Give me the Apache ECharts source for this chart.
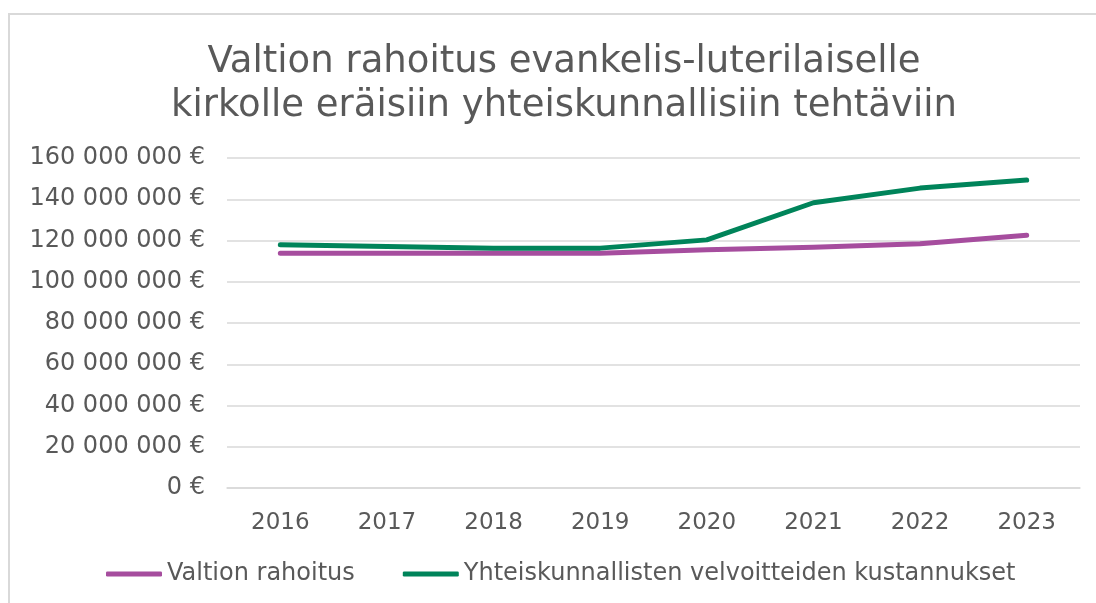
<!DOCTYPE html>
<html>
<head>
<meta charset="utf-8">
<script src="https://cdn.jsdelivr.net/npm/echarts@6/dist/echarts.min.js"></script>
<style>
  html, body { margin: 0; padding: 0; background: #fff; }
  #chart { width: 1096px; height: 603px; }
</style>
</head>
<body>
<div id="chart"></div>
<script>
// vuodet ja sarjat (luettu kuvasta, euroa)
const years = ['2016', '2017', '2018', '2019', '2020', '2021', '2022', '2023'];
const valtionRahoitus = [113800000, 113800000, 113800000, 113800000, 115500000, 116700000, 118400000, 122600000];
const kustannukset = [117900000, 117100000, 116300000, 116300000, 120300000, 138300000, 145400000, 149300000];
const seriesNames = ['Valtion rahoitus', 'Yhteiskunnallisten velvoitteiden kustannukset'];

const textColor = '#595959';
const gridColor = '#d9d9d9';

function euro(v) {
    return String(v).replace(/\B(?=(\d{3})+(?!\d))/g, ' ') + ' €';
}

const myChart = echarts.init(document.getElementById('chart'));

const option = {
    backgroundColor: '#fff',
    animation: false,
    graphic: [{
        type: 'rect',
        shape: { x: 9, y: 14, width: 1200, height: 700 },
        style: { fill: 'none', stroke: '#d9d9d9', lineWidth: 2 },
        silent: true
    }],
    title: {
        text: 'Valtion rahoitus evankelis-luterilaiselle\nkirkolle eräisiin yhteiskunnallisiin tehtäviin',
        left: 559,
        textAlign: 'center',
        top: 35,
        textStyle: {
            fontFamily: 'DejaVu Sans',
            fontSize: 37,
            fontWeight: 'normal',
            color: textColor,
            lineHeight: 44
        }
    },
    legend: {
        data: seriesNames,
        bottom: 12,
        left: 101,
        icon: 'roundRect',
        itemWidth: 56,
        itemHeight: 5,
        itemGap: 48,
        textStyle: {
            fontFamily: 'DejaVu Sans',
            fontSize: 24,
            color: textColor
        }
    },
    grid: {
        left: 227,
        right: 16,
        top: 158,
        bottom: 115
    },
    xAxis: {
        type: 'category',
        data: years,
        boundaryGap: true,
        axisTick: { show: false },
        axisLine: { lineStyle: { color: gridColor, width: 1.5 } },
        axisLabel: {
            fontFamily: 'DejaVu Sans',
            fontSize: 23,
            color: textColor,
            margin: 24
        }
    },
    yAxis: {
        type: 'value',
        min: 0,
        max: 160000000,
        interval: 20000000,
        axisLine: { show: false },
        axisTick: { show: false },
        splitLine: { lineStyle: { color: gridColor, width: 1.5 } },
        axisLabel: {
            fontFamily: 'DejaVu Sans',
            fontSize: 24,
            color: textColor,
            margin: 22,
            formatter: euro
        }
    },
    series: [
        {
            name: seriesNames[0],
            type: 'line',
            data: valtionRahoitus,
            symbol: 'none',
            color: '#a64d9e',
            lineStyle: { width: 5, cap: 'round', join: 'round' }
        },
        {
            name: seriesNames[1],
            type: 'line',
            data: kustannukset,
            symbol: 'none',
            color: '#00845a',
            lineStyle: { width: 5, cap: 'round', join: 'round' }
        }
    ]
};

myChart.setOption(option);
</script>
</body>
</html>
